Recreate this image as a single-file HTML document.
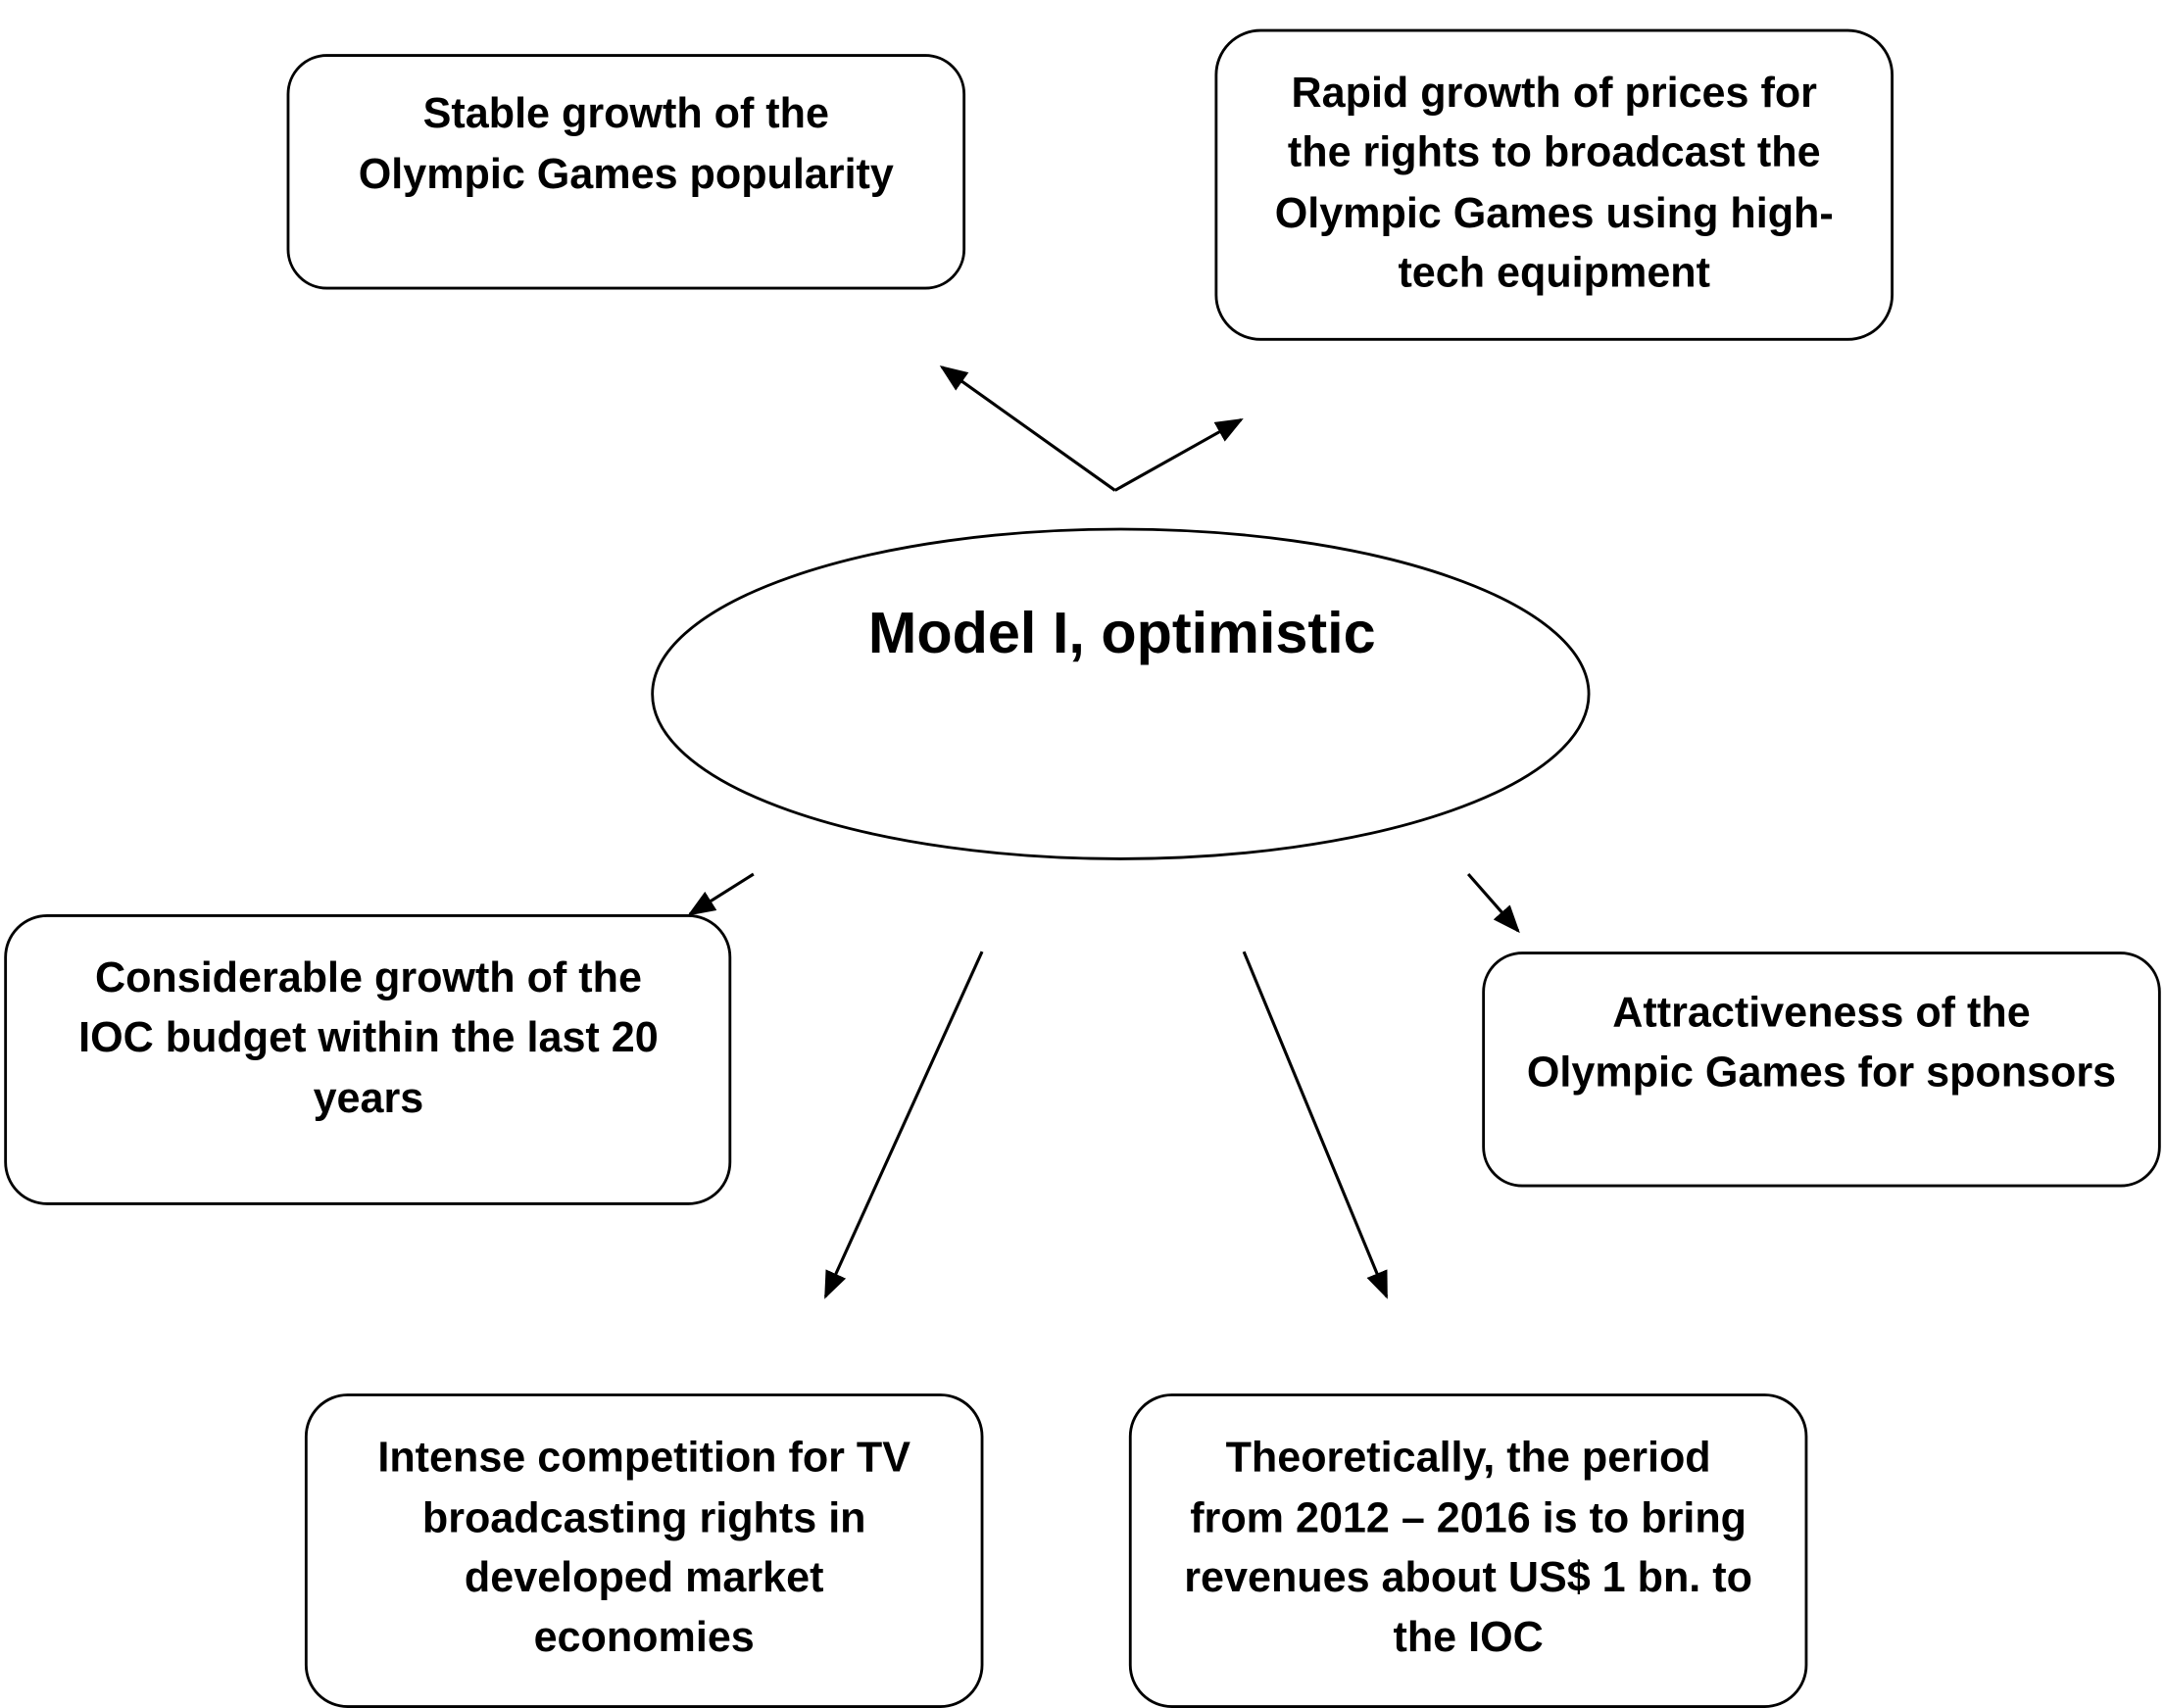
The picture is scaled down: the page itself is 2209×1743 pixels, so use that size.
<!DOCTYPE html>
<html><head><meta charset="utf-8"><style>
html,body{margin:0;padding:0;background:#fff;}
svg{display:block;}
text{font-family:"Liberation Sans",sans-serif;font-weight:bold;fill:#000;}
</style></head><body>
<svg width="2209" height="1743" viewBox="0 0 1563 1233" preserveAspectRatio="none" xmlns="http://www.w3.org/2000/svg">
<defs>
<marker id="b" markerWidth="20" markerHeight="16" refX="18" refY="8" orient="auto" markerUnits="userSpaceOnUse">
<path d="M0,0 L20,8 L0,16 z" fill="#000"/>
</marker>
</defs>
<g fill="none" stroke="#000" stroke-width="2">
<rect x="208" y="40" width="488" height="168" rx="28"/>
<rect x="878" y="22" width="488" height="223" rx="32"/>
<rect x="4" y="661" width="523" height="208" rx="30"/>
<rect x="1071" y="688" width="488" height="168" rx="28"/>
<rect x="221" y="1007" width="488" height="225" rx="30"/>
<rect x="816" y="1007" width="488" height="225" rx="30"/>
<ellipse cx="809" cy="501" rx="338" ry="119"/>
</g>
<g stroke="#000" stroke-width="2.2" fill="none">
<path d="M805,354 L680,265" marker-end="url(#b)"/>
<path d="M805,354 L896,303" marker-end="url(#b)"/>
<path d="M544,631 L498,660" marker-end="url(#b)"/>
<path d="M1060,631 L1096,672" marker-end="url(#b)"/>
<path d="M709,687 L596,936" marker-end="url(#b)"/>
<path d="M898,687 L1001,936" marker-end="url(#b)"/>
</g>
<g font-size="30.5" text-anchor="middle">
<text x="452" y="92">Stable growth of the</text>
<text x="452" y="136">Olympic Games popularity</text>
<text x="1122" y="77">Rapid growth of prices for</text>
<text x="1122" y="120">the rights to broadcast the</text>
<text x="1122" y="164">Olympic Games using high-</text>
<text x="1122" y="207">tech equipment</text>
<text x="266" y="716">Considerable growth of the</text>
<text x="266" y="759">IOC budget within the last 20</text>
<text x="266" y="803">years</text>
<text x="1315" y="741">Attractiveness of the</text>
<text x="1315" y="784">Olympic Games for sponsors</text>
<text x="465" y="1062">Intense competition for TV</text>
<text x="465" y="1106">broadcasting rights in</text>
<text x="465" y="1149">developed market</text>
<text x="465" y="1192">economies</text>
<text x="1060" y="1062">Theoretically, the period</text>
<text x="1060" y="1106">from 2012 – 2016 is to bring</text>
<text x="1060" y="1149">revenues about US$ 1 bn. to</text>
<text x="1060" y="1192">the IOC</text>
<text x="810" y="471" font-size="42">Model I, optimistic</text>
</g>
</svg>
</body></html>
